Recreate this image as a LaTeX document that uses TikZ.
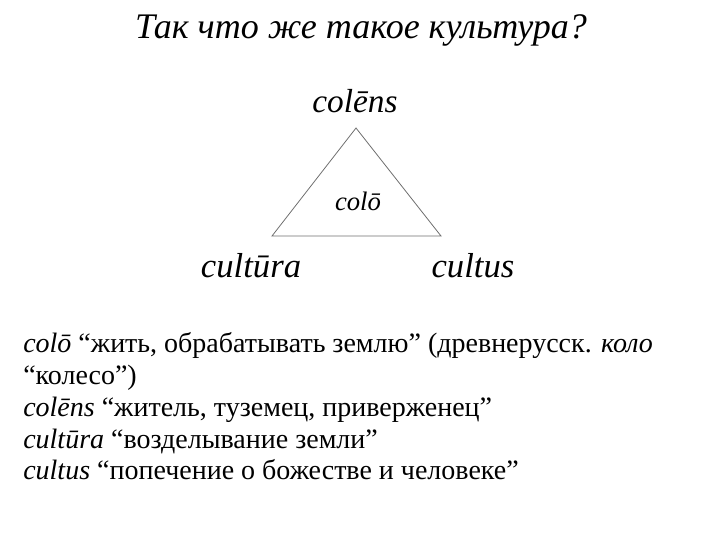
\documentclass[tikz,border=0pt]{standalone}
\usepackage{fontspec}
\setmainfont{LiberationSerif}[Extension=.ttf, UprightFont=*-Regular, ItalicFont=*-Italic, BoldFont=*-Bold, BoldItalicFont=*-BoldItalic]
\begin{document}
\begin{tikzpicture}[x=0.75pt,y=0.75pt,yscale=-1,xscale=1]
\tikzset{
  lat/.style={inner sep=0.75pt, font=\fontsize{26}{30}\selectfont\itshape},
  gloss/.style={anchor=base west, inner sep=0.75pt, font=\fontsize{21}{25}\selectfont},
}
\path (0,0) rectangle (720,540); %set diagram size 720x540

% Title
\node (title) at (361,30) [inner sep=0.75pt, font=\fontsize{27}{32}\selectfont\itshape] {Так что же такое культура?};
% Triangle corners
\coordinate (top) at (356,128);
\coordinate (lft) at (272,236);
\coordinate (rgt) at (441,236);
\draw [color={rgb, 255:red, 110; green, 110; blue, 110 }, line width=0.6] (top) -- (lft) -- (rgt) -- cycle;
% Text Node
\node (colens) at (355,101) [lat, font=\fontsize{25}{30}\selectfont\itshape] {colēns};
% Text Node
\node (colo) at (358,201) [lat, font=\fontsize{20}{24}\selectfont\itshape] {colō};
% Text Node
\node (cultura) at (251,266) [lat] {cultūra};
% Text Node
\node (cultus) at (473,266) [lat] {cultus};

% Gloss lines
\node (g1) at (22,352) [gloss] {\textit{colō} “жить, обрабатывать землю” (древнерусск. \textit{коло}};
\node (g2) at (22,384) [gloss] {“колесо”)};
\node (g3) at (22,416) [gloss] {\textit{colēns} “житель, туземец, приверженец”};
\node (g4) at (22,448) [gloss] {\textit{cultūra} “возделывание земли”};
\node (g5) at (22,479) [gloss] {\textit{cultus} “попечение о божестве и человеке”};

\end{tikzpicture}
\end{document}
